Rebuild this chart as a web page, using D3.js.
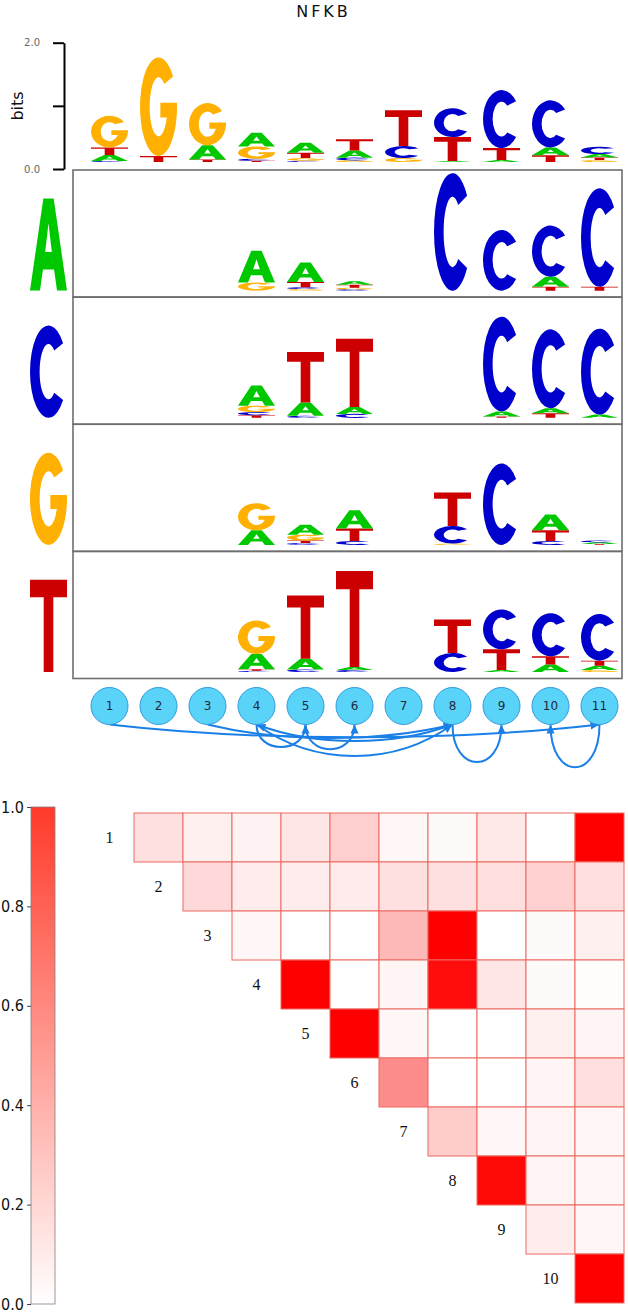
<!DOCTYPE html>
<html><head><meta charset="utf-8">
<script src="https://cdn.jsdelivr.net/npm/d3@7"></script>
<style>body{margin:0;background:#fff}</style>
</head><body>
<svg id="c" width="628" height="1316"></svg>
<script>
// ---------------- DATA ----------------
const title = "NFKB";
const positions = [1,2,3,4,5,6,7,8,9,10,11];
const bases = ["A","C","G","T"];
const bitsTicks = [0, 1, 2];
// information (bits) per position, order [A, C, G, T]
const logoTop = [
  [0.095,0.016,0.50,0.12],
  [0,0,1.56,0.095],
  [0.226,0,0.667,0.04],
  [0.22,0.03,0.194,0.02],
  [0.157,0.02,0.042,0.084],
  [0.115,0.042,0.026,0.178],
  [0,0.189,0.063,0.567],
  [0.016,0.457,0,0.378],
  [0.031,0.919,0,0.189],
  [0.126,0.745,0,0.105],
  [0.052,0.115,0.031,0.042]
];
const logoRowA = [
  [0,0,0,0],[0,0,0,0],[0,0,0,0],
  [0.50,0,0.13,0],
  [0.31,0.03,0.025,0.08],
  [0.055,0.02,0.025,0.05],
  [0,0,0,0],
  [0,1.86,0,0],
  [0,0.96,0,0],
  [0.16,0.81,0,0.06],
  [0,1.56,0,0.06]
];
const logoRowC = [
  [0,0,0,0],[0,0,0,0],[0,0,0,0],
  [0.32,0.05,0.10,0.04],
  [0.21,0.03,0,0.80],
  [0.11,0.06,0,1.08],
  [0,0,0,0],
  [0,0,0,0],
  [0.08,1.50,0,0.02],
  [0.08,1.25,0,0.07],
  [0.05,1.36,0,0]
];
const logoRowG = [
  [0,0,0,0],[0,0,0,0],[0,0,0,0],
  [0.23,0,0.43,0],
  [0.16,0.03,0.09,0.04],
  [0.29,0.06,0,0.20],
  [0,0,0,0],
  [0,0.28,0.02,0.53],
  [0,1.29,0,0],
  [0.25,0.06,0,0.17],
  [0.025,0.028,0,0.015]
];
const logoRowT = [
  [0,0,0,0],[0,0,0,0],[0,0,0,0],
  [0.24,0.02,0.53,0.025],
  [0.17,0.04,0,1.0],
  [0.05,0.03,0,1.52],
  [0,0,0,0],
  [0,0.30,0,0.53],
  [0.03,0.63,0,0.33],
  [0.12,0.68,0,0.13],
  [0.07,0.74,0.03,0.08]
];
// dependency edges (source -> target)
const edges = [[1,11],[3,8],[8,4],[4,5],[5,6],[4,8],[8,9],[11,10]];
// upper-triangle matrix: row i holds values for columns i+1..11
const heatRows = [
  [0.12,0.06,0.05,0.10,0.19,0.03,0.02,0.09,0.0,1.0],
  [0.15,0.07,0.07,0.08,0.12,0.12,0.13,0.18,0.13],
  [0.03,0.0,0.0,0.28,1.0,0.0,0.02,0.06],
  [1.0,0.0,0.04,0.95,0.10,0.02,0.01],
  [1.0,0.03,0.0,0.0,0.06,0.04],
  [0.45,0.0,0.0,0.04,0.13],
  [0.20,0.03,0.04,0.03],
  [0.97,0.04,0.03],
  [0.07,0.03],
  [1.0]
];
const colorTicks = [0,0.2,0.4,0.6,0.8,1.0];

// ---------------- STYLE ----------------
const baseColor = {A:"#00c800", C:"#0000cc", G:"#ffb000", T:"#cc0000"};
const glyph = {
  A: "M0,100 L36,0 H64 L100,100 H73 L65,77 H35 L27,100 Z M41,58 H59 L50,27 Z",
  C: "M89.4,19.2 A50,50 0 1 0 89.4,80.8 L65.4,73 A24,30 0 1 1 65.4,27 Z",
  G: "M89.4,19.2 A50,50 0 1 0 100,50 V46 H55 V61 H72.4 A24,30 0 1 1 65.4,27 Z",
  T: "M0,0 H100 V19 H63 V100 H37 V19 H0 Z"
};
const edgeDepth = {"1-11":17,"3-8":18,"8-4":22,"4-5":30,"5-6":33,"4-8":42,"8-9":50,"11-10":57};

const svg = d3.select("#c");

// title
svg.append("text").attr("x",323.5).attr("y",17).attr("text-anchor","middle")
  .attr("font-family","DejaVu Sans").attr("font-size",16).attr("letter-spacing","3px")
  .attr("fill","#111").text(title);

// scales
const x = d3.scaleBand().domain(positions).range([85,624]).paddingInner(12/49).paddingOuter(6/49);
const yBits = d3.scaleLinear().domain([0,2]).range([169,42.7]);
const pxPerBit = yBits(0) - yBits(1);
const baseOffset = 7;

// bits axis
const ax = svg.append("g").attr("transform","translate(64,0)")
  .call(d3.axisLeft(yBits).tickValues(bitsTicks).tickSize(11).tickSizeOuter(0)
    .tickFormat(d => d === 1 ? "" : d3.format(".1f")(d)));
ax.select(".domain").attr("stroke","#000").attr("stroke-width",2);
ax.selectAll(".tick line").attr("stroke","#000").attr("stroke-width",2);
ax.selectAll(".tick text").attr("font-family","DejaVu Sans").attr("font-size",10).attr("fill","#666").attr("x",-24);
svg.append("text").attr("transform","translate(23,106) rotate(-90)").attr("text-anchor","middle")
  .attr("font-family","DejaVu Sans").attr("font-size",16).attr("fill","#111").text("bits");

function drawLetter(g, b, x0, yTop, w, h) {
  g.append("path").attr("d", glyph[b]).attr("fill", baseColor[b]).attr("fill-rule","evenodd")
    .attr("transform", `translate(${x0},${yTop}) scale(${w/100},${h/100})`);
}
function drawLogo(g, data, baseline) {
  data.forEach((stack, i) => {
    const items = bases.map((b,k) => ({b, v: stack[k]})).filter(d => d.v > 0)
      .sort((a,b) => a.v - b.v);
    let y = baseline;
    items.forEach(d => {
      const h = d.v * pxPerBit;
      y -= h;
      drawLetter(g, d.b, x(positions[i]), y, x.bandwidth(), h);
    });
  });
}

// top logo
drawLogo(svg.append("g"), logoTop, yBits(0) - baseOffset);

// conditional rows
const rowData = {A: logoRowA, C: logoRowC, G: logoRowG, T: logoRowT};
const rowY = d3.scaleBand().domain(bases).range([170, 678.5]);
bases.forEach(b => {
  const g = svg.append("g");
  g.append("rect").attr("x",73).attr("y",rowY(b)).attr("width",549).attr("height",rowY.bandwidth())
    .attr("fill","none").attr("stroke","#6e6e6e").attr("stroke-width",1.6);
  const baseline = rowY(b) + rowY.bandwidth() - 6.5;
  drawLogo(g, rowData[b], baseline);
  const bigH = 1.46 * pxPerBit;
  drawLetter(g, b, 30, baseline - bigH, 37, bigH);
});

// dependency graph
const cy = 706, r = 18.5;
const cx = p => x(p) + x.bandwidth()/2;
const defs = svg.append("defs");
defs.append("marker").attr("id","arr").attr("markerUnits","userSpaceOnUse")
  .attr("viewBox","0 -5 10 10").attr("refX",10).attr("refY",0)
  .attr("markerWidth",9).attr("markerHeight",9).attr("orient","auto")
  .append("path").attr("d","M0,-4.5L10,0L0,4.5Z").attr("fill","#1a7fe6");

const y0 = cy + r;
svg.append("g").selectAll("path").data(edges).join("path")
  .attr("fill","none").attr("stroke","#1a7fe6").attr("stroke-width",2)
  .attr("marker-end","url(#arr)")
  .attr("d", ([s,t]) => {
    const xs = cx(s), xt = cx(t), dx = xt - xs, dir = Math.sign(dx);
    const d = edgeDepth[s+"-"+t];
    const k = Math.abs(t - s) > 1 ? 0.3*Math.abs(dx) : 0;
    return `M${xs},${y0} C${xs+dir*k},${y0+d} ${xt-dir*k},${y0+d} ${xt},${y0}`;
  });

const nodes = svg.append("g").selectAll("g").data(positions).join("g");
nodes.append("circle").attr("cx",cx).attr("cy",cy).attr("r",r)
  .attr("fill","#5ad3f8").attr("stroke","#2d9ae0").attr("stroke-width",1);
nodes.append("text").attr("x",cx).attr("y",cy).attr("dy","0.36em").attr("text-anchor","middle")
  .attr("font-family","DejaVu Sans").attr("font-size",12).attr("fill","#1e2a3a").text(d => d);

// heatmap
const hx = d3.scaleBand().domain(positions).range([85,624]);
const hy = d3.scaleBand().domain(positions.slice(0,10)).range([813,1303]);
const heatColor = d3.interpolateRgb("#ffffff","#ff0000");
const cells = [];
heatRows.forEach((row, i) => row.forEach((v, k) => cells.push({i: i+1, j: i+2+k, v})));
svg.append("g").selectAll("rect").data(cells).join("rect")
  .attr("x", d => hx(d.j)).attr("y", d => hy(d.i))
  .attr("width", hx.bandwidth()).attr("height", hy.bandwidth())
  .attr("fill", d => heatColor(d.v)).attr("stroke","#ec6a62").attr("stroke-width",1);
svg.append("g").selectAll("text").data(positions.slice(0,10)).join("text")
  .attr("x", d => hx(d) + hx.bandwidth()/2).attr("y", d => hy(d) + hy.bandwidth()/2)
  .attr("dy","0.35em").attr("text-anchor","middle")
  .attr("font-family","Liberation Serif").attr("font-size",16).attr("fill","#111").text(d => d);

// colorbar
const cbY = d3.scaleLinear().domain([0,1]).range([1304,807]);
const grad = defs.append("linearGradient").attr("id","cb").attr("x1",0).attr("y1",1).attr("x2",0).attr("y2",0);
grad.append("stop").attr("offset","0%").attr("stop-color","#ffffff");
grad.append("stop").attr("offset","100%").attr("stop-color","#ff3a2a");
svg.append("rect").attr("x",31).attr("y",cbY(1)).attr("width",24).attr("height",cbY(0)-cbY(1))
  .attr("fill","url(#cb)").attr("stroke","#8a7a7a").attr("stroke-width",0.8);
const cax = svg.append("g").attr("transform","translate(31,0)")
  .call(d3.axisLeft(cbY).tickValues(colorTicks).tickSize(4).tickPadding(3).tickFormat(d3.format(".1f")));
cax.select(".domain").remove();
cax.selectAll(".tick line").attr("stroke","#444");
cax.selectAll(".tick text").attr("font-family","DejaVu Sans Condensed").attr("font-size",16).attr("fill","#111");
</script>
</body></html>
